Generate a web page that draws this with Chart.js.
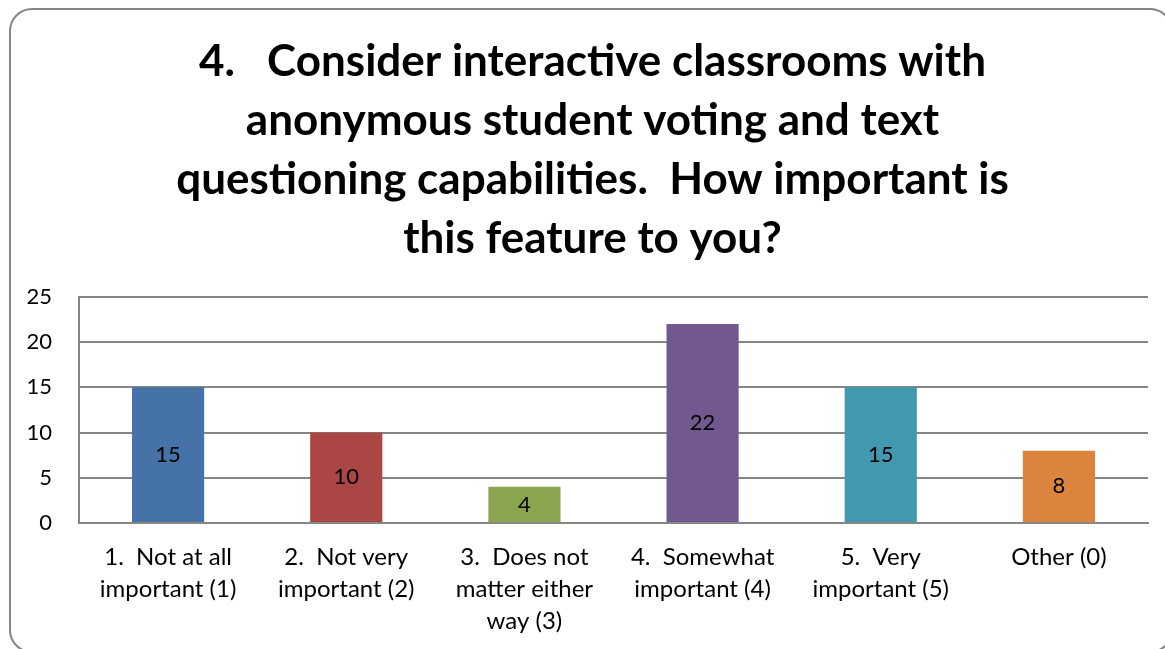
<!DOCTYPE html>
<html>
<head>
<meta charset="utf-8">
<script src="https://cdn.jsdelivr.net/npm/chart.js@4.4.0/dist/chart.umd.min.js"></script>
<style>
  html, body { margin: 0; padding: 0; background: #fff; }
  #wrap { width: 1165px; height: 649px; position: relative; }
</style>
</head>
<body>
<div id="wrap"><canvas id="myChart"></canvas></div>
<script>
'use strict';

// chart data
const titleLines = [
    "4.   Consider interactive classrooms with",
    "anonymous student voting and text",
    "questioning capabilities.  How important is",
    "this feature to you?"
];
const categories = [
    ["1.  Not at all", "important (1)"],
    ["2.  Not very", "important (2)"],
    ["3.  Does not", "matter either", "way (3)"],
    ["4.  Somewhat", "important (4)"],
    ["5.  Very", "important (5)"],
    ["Other (0)"]
];
const responses = [15, 10, 4, 22, 15, 8];
const barColors = ["#4572A7", "#AA4643", "#89A54E", "#71588F", "#4198AF", "#DB843D"];
const yTicks = [0, 5, 10, 15, 20, 25];

const fontName = "Lato, 'Liberation Sans', sans-serif";

// rounded frame around the whole chart
const framePlugin = {
    id: "frame",
    beforeDraw(chart) {
        const ctx = chart.ctx;
        const x = 10, y = 9, w = 1162, h = 643, r = 22;
        ctx.save();
        ctx.strokeStyle = "#868686";
        ctx.lineWidth = 2;
        ctx.beginPath();
        ctx.moveTo(x + r, y);
        ctx.lineTo(x + w - r, y);
        ctx.arcTo(x + w, y, x + w, y + r, r);
        ctx.lineTo(x + w, y + h - r);
        ctx.arcTo(x + w, y + h, x + w - r, y + h, r);
        ctx.lineTo(x + r, y + h);
        ctx.arcTo(x, y + h, x, y + h - r, r);
        ctx.lineTo(x, y + r);
        ctx.arcTo(x, y, x + r, y, r);
        ctx.stroke();
        ctx.restore();
    }
};

// value labels in the middle of each bar
const valueLabels = {
    id: "valueLabels",
    afterDatasetsDraw(chart) {
        const ctx = chart.ctx;
        const meta = chart.getDatasetMeta(0);
        ctx.save();
        ctx.font = "22px " + fontName;
        ctx.fillStyle = "#000";
        ctx.textAlign = "center";
        ctx.textBaseline = "middle";
        meta.data.forEach(function (bar, i) {
            const mid = (bar.y + bar.base) / 2;
            ctx.fillText(String(responses[i]), bar.x, mid);
        });
        ctx.restore();
    }
};

const config = {
    type: "bar",
    data: {
        labels: categories,
        datasets: [{
            label: "Responses",
            data: responses,
            backgroundColor: barColors,
            borderWidth: 0,
            categoryPercentage: 1.0,
            barPercentage: 0.405
        }]
    },
    options: {
        responsive: true,
        maintainAspectRatio: false,
        animation: false,
        layout: { padding: { left: 20, right: 0, top: 10, bottom: 10 } },
        plugins: {
            legend: { display: false },
            tooltip: { enabled: false },
            title: {
                display: true,
                text: titleLines,
                color: "#000",
                font: { family: fontName, size: 44, weight: "bold", lineHeight: 1.34 },
                padding: { top: 22, bottom: 29 }
            }
        },
        scales: {
            x: {
                grid: { display: false },
                border: { display: true, color: "#868686", width: 2 },
                afterFit(scale) {
                    scale.height = 116;
                },
                ticks: {
                    color: "#000",
                    font: { family: fontName, size: 24, lineHeight: 1.34 },
                    padding: 10,
                    maxRotation: 0,
                    autoSkip: false
                }
            },
            y: {
                min: 0,
                max: 25,
                afterBuildTicks(scale) {
                    scale.ticks = yTicks.map(v => ({ value: v }));
                },
                afterFit(scale) {
                    scale.width = 59;
                },
                grid: { color: "#868686", lineWidth: 2, drawTicks: false },
                border: { display: true, color: "#868686", width: 2 },
                ticks: {
                    color: "#000",
                    font: { family: fontName, size: 22 },
                    padding: 27
                }
            },
            // empty strip on the right so the plot stops short of the frame
            yRight: {
                position: "right",
                display: true,
                grid: { display: false },
                border: { display: false },
                ticks: { display: false },
                afterFit(scale) {
                    scale.width = 17;
                }
            }
        }
    },
    plugins: [framePlugin, valueLabels]
};

const myChart = new Chart(document.getElementById("myChart"), config);
</script>
</body>
</html>
